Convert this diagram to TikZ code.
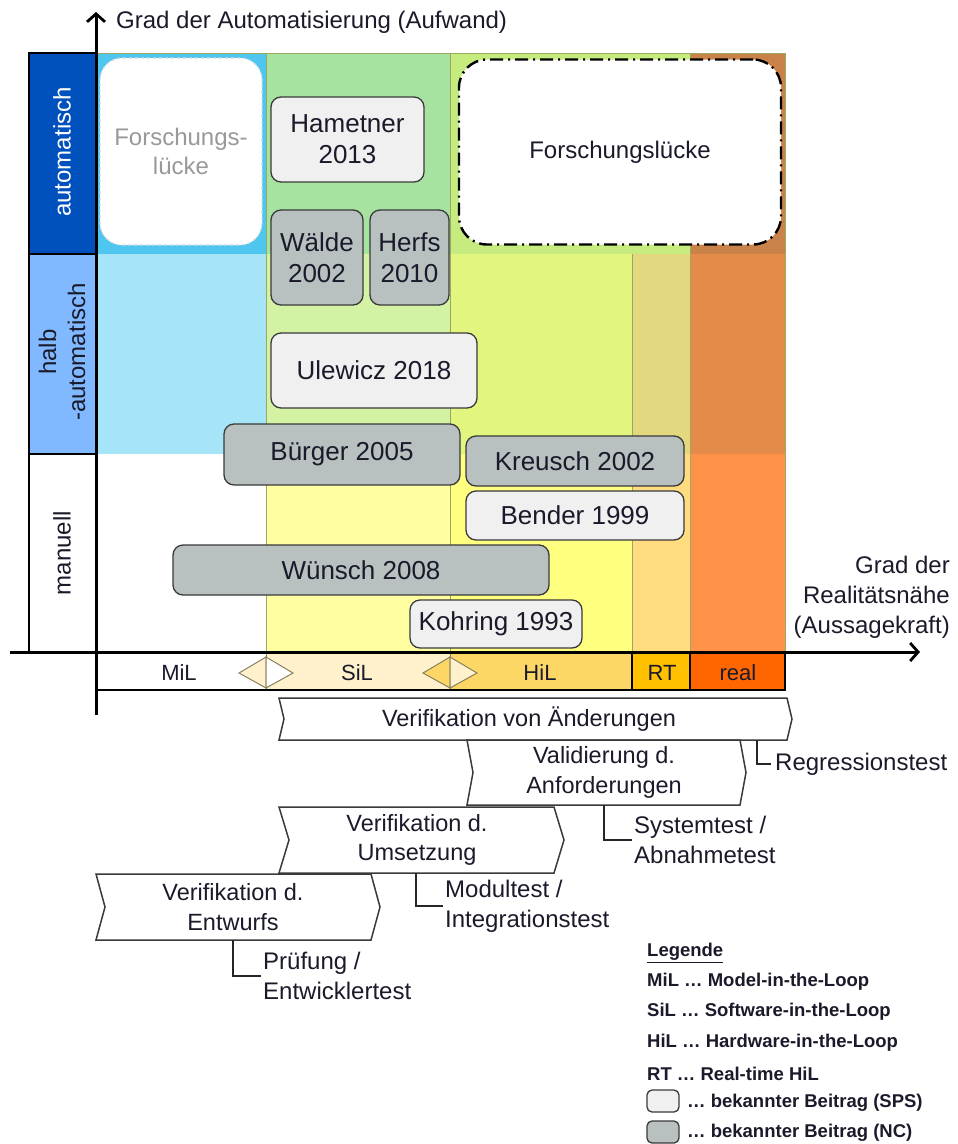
\documentclass[tikz,border=0pt]{standalone}
\usepackage{fontspec}
\setmainfont{Liberation Sans}
\usetikzlibrary{arrows.meta}

% cell colours of the matrix
\definecolor{ink}{HTML}{1A1A2A}
\definecolor{milA}{HTML}{4FC6F0}
\definecolor{milB}{HTML}{A6E4F7}
\definecolor{silA}{HTML}{A6E3A0}
\definecolor{silB}{HTML}{D4F2A4}
\definecolor{silC}{HTML}{FFFFA2}
\definecolor{hilA}{HTML}{C6EC80}
\definecolor{hilB}{HTML}{E2F57E}
\definecolor{hilC}{HTML}{FFFF80}
\definecolor{rtB}{HTML}{E3D880}
\definecolor{rtC}{HTML}{FFDC80}
\definecolor{realA}{HTML}{C98249}
\definecolor{realB}{HTML}{E48B4A}
\definecolor{realC}{HTML}{FF9148}
\definecolor{autoL}{HTML}{0050BE}
\definecolor{halbL}{HTML}{80B9FF}
% band colours below the axis
\definecolor{silBand}{HTML}{FFF1CB}
\definecolor{hilBand}{HTML}{FDD766}
\definecolor{rtBand}{HTML}{FFC000}
\definecolor{realBand}{HTML}{FF6600}
% boxes
\definecolor{lightFill}{HTML}{F0F0F0}
\definecolor{grayFill}{HTML}{B8C0C0}
\definecolor{boxLine}{HTML}{3A3A3A}
\definecolor{gridLine}{HTML}{9AA860}
\definecolor{triLine}{HTML}{8A8060}

\newcommand\fsz[2]{\fontsize{#1}{#2}\selectfont}

% chevron: name, left x, right x, top y, bottom y, depth, text x, text
\newcommand\chevron[8]{%
  \draw[chev] (#2,#4) -- (#3,#4) -- ({#3+#6},{(#4+#5)/2}) -- (#3,#5)
    -- (#2,#5) -- ({#2+#6},{(#4+#5)/2}) -- cycle;
  \node[chevtxt] (#1) at (#7,{(#4+#5)/2}) {#8};
}

\begin{document}
\begin{tikzpicture}[x=1pt,y=-1pt,
  txt/.style={font=\fsz{24}{30}, text=ink, inner sep=0pt, align=center},
  bandtxt/.style={font=\fsz{22}{26}, text=ink, inner sep=0pt},
  legtxt/.style={font=\fsz{18.5}{24}\bfseries, text=ink, inner sep=0pt, anchor=west},
  paper/.style={rounded corners=10pt, draw=boxLine, line width=1.3pt,
    font=\fsz{26}{31}, text=ink, align=center, inner sep=0pt},
  lightbox/.style={paper, fill=lightFill},
  graybox/.style={paper, fill=grayFill},
  gridline/.style={draw=gridLine, line width=0.8pt},
  frame/.style={draw=black, line width=1.6pt},
  axis/.style={draw=black, line width=3pt,
    -{Straight Barb[length=8pt,width=18pt,line width=2.8pt]}},
  chev/.style={fill=white, draw=boxLine, line width=1.5pt, line join=miter},
  chevtxt/.style={font=\fsz{23.5}{29.5}, text=ink, inner sep=0pt, align=center},
  bracket/.style={draw=black!85, line width=1.5pt},
  tri/.style={draw=triLine, line width=1pt, line join=miter}
]
\useasboundingbox (0,0) rectangle (958,1144);

% ---- matrix cells ----
\fill[milA] (96,53) rectangle (266,254);
\fill[milB] (96,254) rectangle (266,454);
\fill[white] (96,454) rectangle (266,652);
\fill[silA] (266,53) rectangle (450,254);
\fill[silB] (266,254) rectangle (450,454);
\fill[silC] (266,454) rectangle (450,652);
\fill[hilA] (450,53) rectangle (690,254);
\fill[hilB] (450,254) rectangle (632,454);
\fill[hilC] (450,454) rectangle (632,652);
\fill[rtB] (632,254) rectangle (690,454);
\fill[rtC] (632,454) rectangle (690,652);
\fill[realA] (690,53) rectangle (785,254);
\fill[realB] (690,254) rectangle (785,454);
\fill[realC] (690,454) rectangle (785,652);

\draw[gridline] (96,53) -- (785,53) -- (785,652);
\draw[gridline] (266,53) -- (266,652);
\draw[gridline] (450,53) -- (450,652);
\draw[gridline] (632,254) -- (632,652);
\draw[gridline] (690,53) -- (690,652);

% ---- row labels ----
\fill[autoL] (29,53) rectangle (95,254);
\fill[halbL] (29,254) rectangle (95,454);
\draw[frame] (95,53) -- (29,53) -- (29,652);
\draw[frame] (29,254) -- (95,254);
\draw[frame] (29,454) -- (95,454);
\node[txt, rotate=90, text=white] (rowauto) at (62,152) {automatisch};
\node[txt, rotate=90, font=\fsz{24}{29}] (rowhalb) at (62,352) {halb\\-automatisch};
\node[txt, rotate=90] (rowman) at (62,553) {manuell};

% ---- band below the axis ----
\fill[white] (96,652) rectangle (266,690);
\fill[silBand] (266,652) rectangle (450,690);
\fill[hilBand] (450,652) rectangle (632,690);
\fill[rtBand] (632,652) rectangle (690,690);
\fill[realBand] (690,652) rectangle (785,690);
\draw[gridline, draw=triLine] (266,652) -- (266,690);
\draw[gridline, draw=triLine] (450,652) -- (450,690);
\draw[frame] (96,690) -- (785,690) -- (785,652);
\draw[frame] (632,652) -- (632,690);
\draw[frame] (690,652) -- (690,690);
\filldraw[tri, fill=silBand] (266,657) -- (239,673) -- (266,688) -- cycle;
\filldraw[tri, fill=white] (266,657) -- (293,673) -- (266,688) -- cycle;
\filldraw[tri, fill=hilBand] (450,657) -- (423,673) -- (450,688) -- cycle;
\filldraw[tri, fill=silBand] (450,657) -- (477,673) -- (450,688) -- cycle;
\node[bandtxt] (bmil) at (179,673) {MiL};
\node[bandtxt] (bsil) at (357,673) {SiL};
\node[bandtxt] (bhil) at (540,673) {HiL};
\node[bandtxt] (brt) at (662,673) {RT};
\node[bandtxt] (breal) at (738,673) {real};

% ---- axes ----
\coordinate (yfoot) at (96,715);
\coordinate (ytip) at (96,12);
\coordinate (xfoot) at (10,652);
\coordinate (xtip) at (920,652);
\draw[axis] (yfoot) -- (ytip);
\draw[axis] (xfoot) -- (xtip);
\node[txt, anchor=west] (ylabel) at (116,22) {Grad der Automatisierung (Aufwand)};
\node[txt, anchor=east, align=right] (xlabel) at (950,597)
  {Grad der\\Realitätsnähe\\(Aussagekraft)};

% ---- research gaps ----
\node[fill=white, draw=black!15, dashed, line width=1.2pt, rounded corners=22pt,
  minimum width=162pt, minimum height=187pt, inner sep=0pt,
  font=\fsz{24}{29}, text=black!40, align=center] (gapleft) at (181,151.5)
  {Forschungs-\\lücke};
\node[fill=white, draw=black, line width=2.4pt, rounded corners=28pt,
  dash pattern=on 13pt off 5pt on 2pt off 5pt,
  minimum width=322pt, minimum height=185pt, inner sep=0pt,
  font=\fsz{24}{29}, text=ink] (gapright) at (620,152) {Forschungslücke};

% ---- known contributions ----
\node[lightbox, minimum width=153pt, minimum height=85pt] (hametner) at (347.5,139.5) {Hametner\\2013};
\node[graybox, minimum width=92pt, minimum height=95pt] (waelde) at (317,257.5) {Wälde\\2002};
\node[graybox, minimum width=79pt, minimum height=95pt] (herfs) at (409.5,257.5) {Herfs\\2010};
\node[lightbox, minimum width=206pt, minimum height=75pt] (ulewicz) at (374,370.5) {Ulewicz 2018};
\node[graybox, minimum width=236pt, minimum height=61pt] (buerger) at (342,454.5) {Bürger 2005};
\node[graybox, minimum width=218pt, minimum height=50pt] (kreusch) at (575,461) {Kreusch 2002};
\node[lightbox, minimum width=218pt, minimum height=49pt] (bender) at (575,515.5) {Bender 1999};
\node[graybox, minimum width=376pt, minimum height=50pt] (wuensch) at (361,570) {Wünsch 2008};
\node[lightbox, minimum width=172pt, minimum height=48pt] (kohring) at (496,624) {Kohring 1993};

% ---- test phases ----
\chevron{verAend}{279}{787}{698}{740}{5}{529}{Verifikation von Änderungen}
\chevron{valAnf}{467}{740}{740}{805}{6}{604}{Validierung d.\\Anforderungen}
\chevron{verUms}{279}{554}{807}{873}{10}{417}{Verifikation d.\\Umsetzung}
\chevron{verEnt}{96}{371}{874}{940}{9}{233}{Verifikation d.\\Entwurfs}

\coordinate (regtap) at (757,740);
\coordinate (systap) at (604,805);
\coordinate (modtap) at (416,873);
\coordinate (prftap) at (233,940);
\node[txt, anchor=west, inner sep=4pt] (regr) at (771,764) {Regressionstest};
\node[txt, anchor=west, align=left, inner sep=2pt] (syst) at (632,840) {Systemtest /\\Abnahmetest};
\node[txt, anchor=west, align=left, inner sep=2pt] (modt) at (443,906) {Modultest /\\Integrationstest};
\node[txt, anchor=west, align=left, inner sep=2pt] (prft) at (261,976) {Prüfung /\\Entwicklertest};
\draw[bracket] (regtap) |- (regr.west);
\draw[bracket] (systap) |- (syst.west);
\draw[bracket] (modtap) |- (modt.west);
\draw[bracket] (prftap) |- (prft.west);

% ---- legend ----
\node[legtxt] (leghead) at (647,953) {\underline{Legende}};
\node[legtxt] (legmil) at (647,982) {MiL … Model-in-the-Loop};
\node[legtxt] (legsil) at (647,1012) {SiL … Software-in-the-Loop};
\node[legtxt] (leghil) at (647,1043) {HiL … Hardware-in-the-Loop};
\node[legtxt] (legrt) at (647,1074) {RT … Real-time HiL};
\node[lightbox, rounded corners=5pt, minimum width=32pt, minimum height=22pt] (legsps) at (663,1101) {};
\node[legtxt] (legspst) at (687,1103) {… bekannter Beitrag (SPS)};
\node[graybox, rounded corners=5pt, minimum width=32pt, minimum height=22pt] (legnc) at (663,1132) {};
\node[legtxt] (legnct) at (687,1133) {… bekannter Beitrag (NC)};
\end{tikzpicture}
\end{document}
